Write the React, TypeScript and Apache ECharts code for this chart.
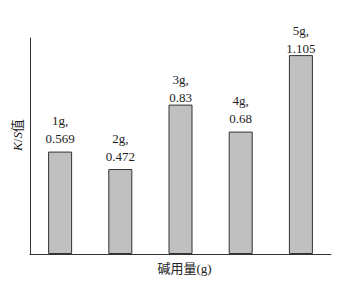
import React, { useEffect, useRef } from "react";
import * as echarts from "echarts";

const categories = ["1g", "2g", "3g", "4g", "5g"];
const values = [0.569, 0.472, 0.83, 0.68, 1.105];
const xAxisName = "碱用量(g)";
const yAxisName = "{i|K}/{i|S}值";

export default function App() {
  const ref = useRef<HTMLDivElement>(null);
  useEffect(() => {
    if (!ref.current) return;
    const chart = echarts.init(ref.current, null, { renderer: "svg" });
    const font = "Liberation Serif, Noto Sans CJK SC, serif";
    const closeLabel = new Set([2, 4]);
    chart.setOption({
      animation: false,
      backgroundColor: "#ffffff",
      grid: { left: 30, right: 10, top: 38, bottom: 30, containLabel: false, outerBoundsMode: "none" },
      graphic: [
        {
          type: "text",
          x: 17,
          y: 135,
          rotation: Math.PI / 2,
          style: {
            text: yAxisName,
            fontFamily: font,
            fontSize: 13,
            fill: "#222",
            align: "center",
            verticalAlign: "middle",
            rich: { i: { fontStyle: "italic", fontFamily: font, fontSize: 13, fill: "#222" } },
          },
        },
      ],
      xAxis: {
        type: "category",
        data: categories,
        name: xAxisName,
        nameLocation: "middle",
        nameGap: 8,
        nameTextStyle: { fontFamily: font, fontSize: 13, color: "#222", padding: [0, 0, 0, 8] },
        axisLine: { lineStyle: { color: "#333", width: 1 } },
        axisTick: { show: false },
        axisLabel: { show: false },
      },
      yAxis: {
        type: "value",
        min: 0,
        max: 1.2,
        axisLine: { show: true, lineStyle: { color: "#333", width: 1 } },
        axisTick: { show: false },
        axisLabel: { show: false },
        splitLine: { show: false },
      },
      series: [
        {
          type: "bar",
          data: values.map((v, i) =>
            closeLabel.has(i) ? { value: v, label: { offset: [0, 6] } } : v
          ),
          barWidth: 24,
          itemStyle: { color: "#c0c0c0", borderColor: "#333", borderWidth: 1 },
          label: {
            show: true,
            position: "top",
            distance: 4,
            formatter: (p: any) => `${p.name},\n${p.value}`,
            fontFamily: font,
            fontSize: 13,
            lineHeight: 18,
            color: "#222",
          },
        },
      ],
    });
    return () => chart.dispose();
  }, []);
  return (
    <div
      ref={ref}
      style={{ position: "absolute", left: 0, top: 0, width: 341, height: 284 }}
    />
  );
}
